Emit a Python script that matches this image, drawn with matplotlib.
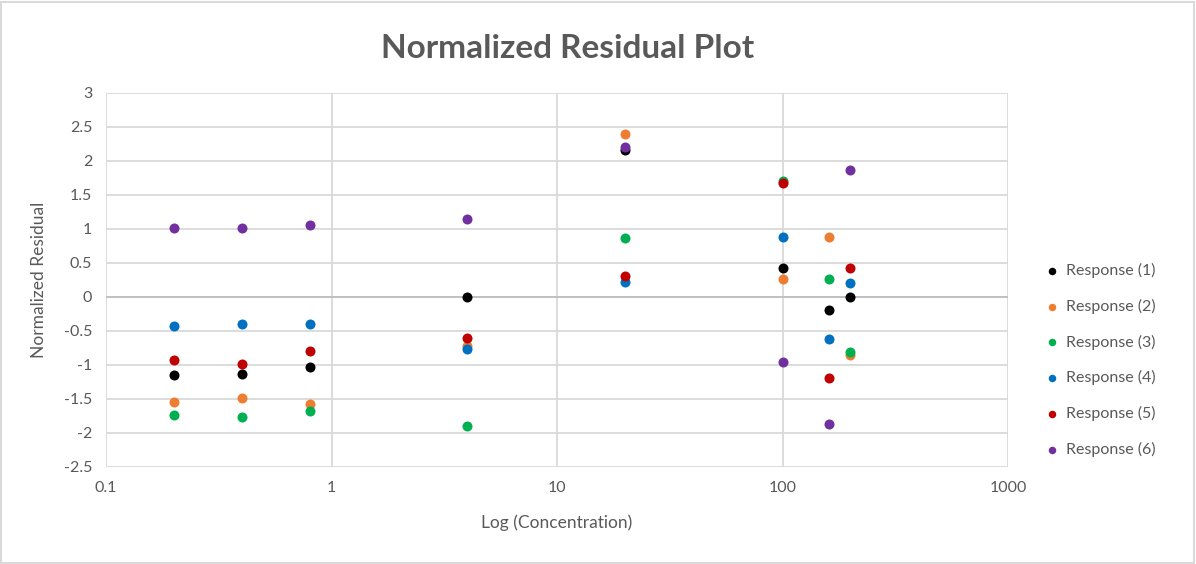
import matplotlib.pyplot as plt

# Концентрации (ось x, логарифмическая шкала)
conc = [0.2, 0.4, 0.8, 4, 20, 100, 160, 200]

# Нормированные остатки для каждого отклика
resp1 = [-1.15, -1.13, -1.03, 0.0, 2.16, 0.42, -0.19, 0.0]
resp2 = [-1.55, -1.48, -1.57, -0.72, 2.39, 0.27, 0.88, -0.86]
resp3 = [-1.73, -1.77, -1.68, -1.89, 0.87, 1.71, 0.27, -0.81]
resp4 = [-0.42, -0.39, -0.39, -0.76, 0.22, 0.88, -0.62, 0.21]
resp5 = [-0.93, -0.98, -0.80, -0.61, 0.31, 1.67, -1.19, 0.43]
resp6 = [1.02, 1.02, 1.06, 1.15, 2.21, -0.96, -1.87, 1.87]

labels = ['Response (1)', 'Response (2)', 'Response (3)',
          'Response (4)', 'Response (5)', 'Response (6)']
colors = ['#000000', '#ED7D31', '#00B050', '#0070C0', '#C00000', '#7030A0']
series = [resp1, resp2, resp3, resp4, resp5, resp6]

plt.rcParams['font.family'] = ['Lato', 'DejaVu Sans']
txt = '#595959'

fig = plt.figure(figsize=(11.96, 5.64), dpi=100)
ax = fig.add_axes([106 / 1196, 1 - 467 / 564, (1008 - 106) / 1196, (467 - 93) / 564])

for y, lab, c in zip(series, labels, colors):
    ax.scatter(conc, y, s=52, color=c, label=lab, zorder=3, linewidths=0)

ax.set_xscale('log')
ax.set_xlim(0.1, 1000)
ax.set_ylim(-2.5, 3)
ax.set_yticks([-2.5, -2, -1.5, -1, -0.5, 0, 0.5, 1, 1.5, 2, 2.5, 3])
ax.set_yticklabels(['-2.5', '-2', '-1.5', '-1', '-0.5', '0', '0.5', '1',
                    '1.5', '2', '2.5', '3'])
ax.set_xticks([0.1, 1, 10, 100, 1000])
ax.set_xticklabels(['0.1', '1', '10', '100', '1000'])
ax.minorticks_off()

ax.grid(True, color='#d9d9d9', linewidth=1.3)
ax.axhline(0, color='#bfbfbf', linewidth=1.3, zorder=2)
for s in ax.spines.values():
    s.set_visible(False)
ax.tick_params(length=0, colors=txt, labelsize=11.5, pad=10)

ax.set_xlabel('Log (Concentration)', color=txt, fontsize=12.5, labelpad=14)
ax.set_ylabel('Normalized Residual', color=txt, fontsize=12.5, labelpad=12)

fig.suptitle('Normalized Residual Plot', x=0.475, y=0.94, fontsize=24,
             fontweight='bold', color=txt)

leg = ax.legend(loc='center left', bbox_to_anchor=(1.015, 0.286), frameon=False,
                fontsize=11.5, labelspacing=1.3, handletextpad=-0.1,
                markerscale=0.75, labelcolor=txt)

# Рамка вокруг всей картинки
fig.patches.append(plt.Rectangle((0.001, 0.002), 0.997, 0.995, transform=fig.transFigure,
                                 fill=False, edgecolor='#d9d9d9', linewidth=1.5))

fig.savefig('out.png', dpi=100)
